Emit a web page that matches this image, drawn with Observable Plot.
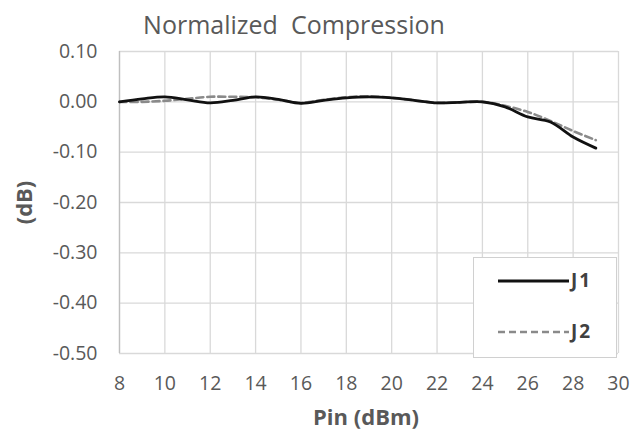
<!DOCTYPE html>
<html>
<head>
<meta charset="utf-8">
<script src="https://cdn.jsdelivr.net/npm/d3@7"></script>
<script src="https://cdn.jsdelivr.net/npm/@observablehq/plot@0.6"></script>
<style>
  html, body { margin: 0; padding: 0; background: #fff; }
  #wrap { position: relative; width: 643px; height: 431px; font-family: "Open Sans", "Noto Sans", sans-serif; }
  #legend { position: absolute; left: 473px; top: 257px; width: 144px; height: 101px; background: #fff; border: 1px solid #d0d0d0; box-sizing: border-box; }
  .row { position: absolute; left: 24px; display: flex; align-items: center; font-size: 19px; font-weight: bold; color: #404040; letter-spacing: 2px; }
  .row svg { margin-right: 2px; }
</style>
</head>
<body>
<div id="wrap"></div>
<script>
const pin = [8, 9, 10, 11, 12, 13, 14, 15, 16, 17, 18, 19, 20, 21, 22, 23, 24, 25, 26, 27, 28, 29];
const j1 = [0, 0.006, 0.01, 0.004, -0.002, 0.003, 0.01, 0.005, -0.003, 0.003, 0.008, 0.01, 0.008, 0.003, -0.002, -0.001, 0, -0.01, -0.03, -0.04, -0.07, -0.092];
const j2 = [0, 0, 0.002, 0.006, 0.01, 0.01, 0.009, 0.004, -0.002, 0.004, 0.009, 0.011, 0.008, 0.003, -0.002, -0.001, 0, -0.008, -0.02, -0.038, -0.058, -0.076];
const xTicks = [8, 10, 12, 14, 16, 18, 20, 22, 24, 26, 28, 30];
const yTicks = [0.1, 0, -0.1, -0.2, -0.3, -0.4, -0.5];
const seriesNames = ["J1", "J2"];
const titleText = "Normalized\u00A0 Compression";
const xLabel = "Pin (dBm)";
const yLabel = "(dB)";

const d1 = pin.map((p, i) => ({x: p, y: j1[i]}));
const d2 = pin.map((p, i) => ({x: p, y: j2[i]}));

const chart = Plot.plot({
  width: 643,
  height: 431,
  marginLeft: 119,
  marginRight: 25,
  marginTop: 51,
  marginBottom: 78,
  style: {fontFamily: "'Open Sans', 'Noto Sans', sans-serif", fontSize: "19px", color: "#595959", background: "#fff"},
  x: {domain: [8, 30], label: null},
  y: {domain: [-0.5, 0.1], label: null},
  marks: [
    Plot.gridX(xTicks, {stroke: "#d9d9d9", strokeOpacity: 1, strokeWidth: 1.3}),
    Plot.gridY(yTicks, {stroke: "#d9d9d9", strokeOpacity: 1, strokeWidth: 1.3}),
    Plot.ruleX([8], {stroke: "#bfbfbf", strokeWidth: 1.3}),
    Plot.axisX(xTicks, {tickSize: 0, tickPadding: 23, tickFormat: d => String(d), fill: "#595959", fontSize: 19.5, label: null}),
    Plot.axisY(yTicks, {tickSize: 0, tickPadding: 22, tickFormat: d => d.toFixed(2), fill: "#595959", fontSize: 19.5, label: null}),
    Plot.line(d2, {x: "x", y: "y", stroke: "#8a8a8a", strokeWidth: 2.6, strokeDasharray: "7,4", curve: "catmull-rom"}),
    Plot.line(d1, {x: "x", y: "y", stroke: "#111", strokeWidth: 2.8, curve: "catmull-rom"}),
    Plot.text([titleText], {frameAnchor: "top", dy: -35, fontSize: 25, fill: "#595959", dx: -75}),
    Plot.text([xLabel], {frameAnchor: "bottom", dy: 71, dx: -3, fontSize: 22, fontWeight: "bold", fill: "#595959"}),
    Plot.text([yLabel], {frameAnchor: "left", textAnchor: "middle", rotate: -90, dx: -95, fontSize: 22, fontWeight: "bold", fill: "#595959"})
  ]
});

const wrap = document.getElementById("wrap");
wrap.appendChild(chart);

const legend = document.createElement("div");
legend.id = "legend";
const styles = [{dash: null, color: "#111", w: 3.2}, {dash: "7,4", color: "#8a8a8a", w: 2.4}];
seriesNames.forEach((name, i) => {
  const row = document.createElement("div");
  row.className = "row";
  row.style.top = (i === 0 ? 9 : 60) + "px";
  const s = d3.create("svg").attr("width", 71).attr("height", 26);
  s.append("line").attr("x1", 0).attr("x2", 71).attr("y1", 14).attr("y2", 14)
    .attr("stroke", styles[i].color).attr("stroke-width", styles[i].w)
    .attr("stroke-dasharray", styles[i].dash);
  row.appendChild(s.node());
  const t = document.createElement("span");
  t.textContent = name;
  row.appendChild(t);
  legend.appendChild(row);
});
wrap.appendChild(legend);
</script>
</body>
</html>
